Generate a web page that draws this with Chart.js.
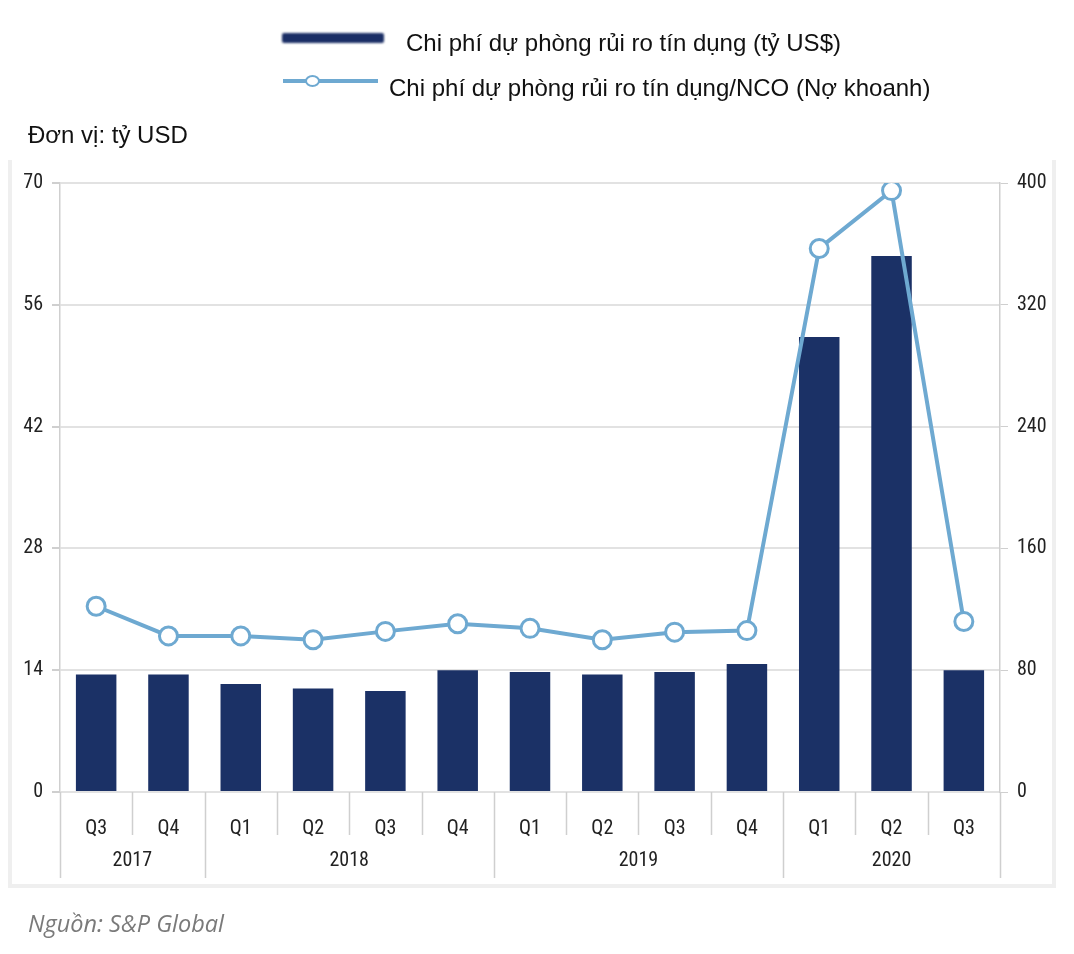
<!DOCTYPE html>
<html>
<head>
<meta charset="utf-8">
<script src="https://cdn.jsdelivr.net/npm/chart.js@4.4.1/dist/chart.umd.min.js"></script>
<style>
  html, body { margin: 0; padding: 0; background: #fff; }
  body { width: 1074px; height: 954px; position: relative; overflow: hidden; font-family: "Liberation Sans", Arial, sans-serif; }
  #frame { position: absolute; left: 8px; top: 160px; width: 1040px; height: 724px; border: 4px solid #efefef; border-top: none; }
  #wrap { position: absolute; left: 0; top: 0; width: 1074px; height: 954px; }
  .leg { position: absolute; font-size: 24px; line-height: 28px; color: #111; white-space: nowrap; }
  #sw1 { position: absolute; left: 282px; top: 33px; width: 102px; height: 10px; background: #1b2f66; filter: blur(0.8px); border-radius: 2px; }
  #sw2 { position: absolute; left: 283px; top: 79px; width: 95px; height: 4px; background: #6ea9d1; filter: blur(0.5px); }
  #sw2c { position: absolute; left: 305px; top: 75px; width: 11px; height: 8px; border: 2px solid #6ea9d1; border-radius: 50%; background: #fff; }
  #unit { position: absolute; left: 28px; top: 121px; font-size: 24px; line-height: 28px; color: #111; }
  #src { position: absolute; left: 28px; top: 907px; font-size: 23.5px; line-height: 32px; color: #7a7a7a; font-style: italic; font-family: "Open Sans", sans-serif; }
</style>
</head>
<body>
<div id="frame"></div>
<div id="wrap"><canvas id="c"></canvas></div>
<div id="sw1"></div>
<div class="leg" style="left:406px; top:29px;">Chi phí dự phòng rủi ro tín dụng (tỷ US$)</div>
<div id="sw2"></div><div id="sw2c"></div>
<div class="leg" style="left:389px; top:74px;">Chi phí dự phòng rủi ro tín dụng/NCO (Nợ khoanh)</div>
<div id="unit">Đơn vị: tỷ USD</div>
<div id="src">Nguồn: S&amp;P Global</div>
<script>
const quarters = ['Q3','Q4','Q1','Q2','Q3','Q4','Q1','Q2','Q3','Q4','Q1','Q2','Q3'];
const years = ['2017','2018','2019','2020'];
const yearSpans = [2, 4, 4, 3];
const provisionCost = [13.5, 13.5, 12.4, 11.9, 11.6, 14.0, 13.8, 13.5, 13.8, 14.7, 52.3, 61.6, 14.0];
const provisionToNCO = [122, 102.5, 102.5, 100, 105.5, 110.5, 107.5, 100, 105, 106, 357, 395, 112];
const leftTicks = [0, 14, 28, 42, 56, 70];
const rightTicks = [0, 80, 160, 240, 320, 400];

// pick an installed condensed font
function pickFont(list) {
  const cv = document.createElement('canvas').getContext('2d');
  const sample = 'Q1234567890 2018';
  cv.font = '40px monospace';
  const base = cv.measureText(sample).width;
  cv.font = '40px serif';
  const base2 = cv.measureText(sample).width;
  for (const f of list) {
    cv.font = `40px "${f}", monospace`;
    const w1 = cv.measureText(sample).width;
    cv.font = `40px "${f}", serif`;
    const w2 = cv.measureText(sample).width;
    if (w1 !== base || w2 !== base2) return `"${f}"`;
  }
  return 'sans-serif';
}
const condensed = pickFont(['Liberation Sans Narrow', 'Roboto Condensed', 'DejaVu Sans Condensed', 'Open Sans Condensed']);
const tickFont = { family: condensed + ", sans-serif", size: 20 };

const groupPlugin = {
  id: 'groups',
  afterDraw(chart) {
    const x = chart.scales.x;
    const ctx = chart.ctx;
    const bottom = chart.chartArea.bottom;
    ctx.save();
    ctx.strokeStyle = '#cfcfcf';
    ctx.lineWidth = 1.5;
    const yearEdges = [0];
    let acc = 0;
    yearSpans.forEach(s => { acc += s; yearEdges.push(acc); });
    for (let i = 0; i <= quarters.length; i++) {
      const px = Math.round(x.getPixelForValue(i - 0.5)) + 0.5;
      const isYear = yearEdges.includes(i);
      ctx.beginPath();
      ctx.moveTo(px, bottom);
      ctx.lineTo(px, isYear ? 878 : 835);
      ctx.stroke();
    }
    ctx.fillStyle = '#222';
    ctx.font = `${tickFont.size}px ${tickFont.family}`;
    ctx.textAlign = 'center';
    ctx.textBaseline = 'middle';
    let start = 0;
    years.forEach((y, k) => {
      const mid = start + (yearSpans[k] - 1) / 2;
      ctx.fillText(y, x.getPixelForValue(mid), 861);
      start += yearSpans[k];
    });
    ctx.restore();
  }
};

new Chart(document.getElementById('c'), {
  data: {
    labels: quarters,
    datasets: [
      {
        type: 'line',
        label: 'Chi phí dự phòng rủi ro tín dụng/NCO (Nợ khoanh)',
        data: provisionToNCO,
        yAxisID: 'y1',
        borderColor: '#6ea9d1',
        borderWidth: 4,
        pointRadius: 9,
        pointHoverRadius: 9,
        pointBackgroundColor: '#ffffff',
        pointBorderColor: '#6ea9d1',
        pointBorderWidth: 3,
        tension: 0,
        order: 0
      },
      {
        type: 'bar',
        label: 'Chi phí dự phòng rủi ro tín dụng (tỷ US$)',
        data: provisionCost,
        yAxisID: 'y',
        backgroundColor: '#1b3166',
        barPercentage: 0.56,
        categoryPercentage: 1,
        order: 1
      }
    ]
  },
  options: {
    responsive: true,
    maintainAspectRatio: false,
    animation: false,
    devicePixelRatio: 1,
    layout: { padding: { left: 0, right: 0, top: 183, bottom: 0 } },
    plugins: { legend: { display: false }, tooltip: { enabled: false } },
    scales: {
      x: {
        offset: true,
        grid: { display: false },
        border: { display: false },
        ticks: { color: '#222', font: tickFont, padding: 17, maxRotation: 0 },
        afterFit(s) { s.height = 954 - 792; }
      },
      y: {
        position: 'left',
        min: 0, max: 70,
        afterBuildTicks(s) { s.ticks = leftTicks.map(v => ({ value: v })); },
        grid: { color: '#e2e2e2', lineWidth: 2, tickLength: 8, tickColor: '#cfcfcf' },
        border: { display: true, color: '#cfcfcf', width: 1.5 },
        ticks: { color: '#222', font: tickFont, padding: 9 },
        afterFit(s) { s.width = 60; }
      },
      y1: {
        position: 'right',
        min: 0, max: 400,
        afterBuildTicks(s) { s.ticks = rightTicks.map(v => ({ value: v })); },
        grid: { drawOnChartArea: false, tickLength: 8, tickColor: '#cfcfcf' },
        border: { display: true, color: '#cfcfcf', width: 1.5 },
        ticks: { color: '#222', font: tickFont, padding: 9 },
        afterFit(s) { s.width = 74; }
      }
    }
  },
  plugins: [groupPlugin]
});
</script>
</body>
</html>
